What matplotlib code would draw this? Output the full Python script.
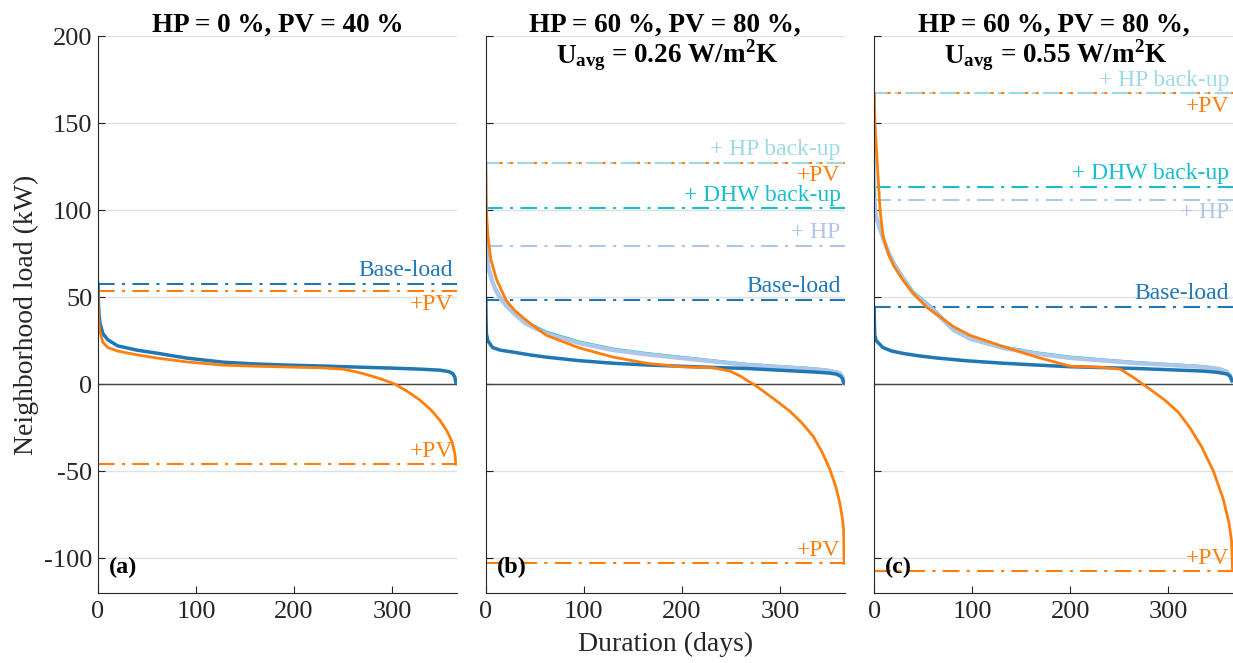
import numpy as np
import matplotlib.pyplot as plt

plt.rcParams['font.family'] = ['Liberation Serif', 'DejaVu Serif']
plt.rcParams['mathtext.fontset'] = 'custom'
plt.rcParams['mathtext.rm'] = 'Liberation Serif'
plt.rcParams['mathtext.bf'] = 'Liberation Serif:bold'
plt.rcParams['axes.unicode_minus'] = False

# colours (tab20 style)
col_base = '#1f77b4'
col_pv = '#ff7f0e'
col_hp = '#aec7e8'
col_dhw = '#17becf'
col_hpb = '#9edae5'

# ---- panel (a): HP = 0 %, PV = 40 %
a_days_base = [0, 0.3, 1, 2, 5, 10, 20, 40, 60, 90, 128, 160, 196, 230, 264, 300, 330, 349, 358, 362, 364, 365]
a_base = [57.5, 48, 40, 35, 29, 25.5, 22, 19.5, 17.8, 15, 12.6, 11.6, 10.9, 10.4, 9.8, 9.2, 8.6, 8, 7.2, 6, 4, 1]
a_days_pv = [0, 0.3, 1, 2, 5, 10, 20, 40, 60, 90, 128, 160, 196, 230, 250, 264, 280, 292, 303, 315, 328, 340, 349, 356, 361, 364, 365]
a_pv = [53, 42, 34, 30, 24, 21, 19, 16.8, 15, 12.8, 10.9, 10.3, 9.8, 9.3, 8.6, 7, 4.5, 2.3, 0, -4, -9, -15, -21, -27, -33, -40, -46]

# ---- panel (b): HP = 60 %, PV = 80 %, U = 0.26
b_days_base = [0, 0.3, 0.6, 2, 7, 15, 28, 45, 62, 95, 130, 165, 198, 232, 266, 300, 334, 350, 358, 362, 364, 365]
b_base = [48.5, 36, 29, 25, 21, 19.5, 18.4, 16.8, 15.5, 13.5, 12, 11, 10.3, 9.6, 9, 8, 7, 6.4, 5.7, 4.5, 3, 1]
b_days_hp = [0, 0.5, 1, 3, 6, 10, 14, 20, 28, 40, 62, 96, 130, 165, 198, 232, 266, 300, 334, 350, 361, 364, 365]
b_hp = [80, 77, 73, 66, 60, 54, 50, 45.5, 41, 35, 29, 23.5, 19.5, 17, 15, 13, 11, 9.8, 8.6, 7.6, 6.3, 4, 1]
b_dhw = [101, 90, 78, 68, 61, 55, 51, 46.5, 42, 36, 30, 24.3, 20.3, 17.7, 15.7, 13.6, 11.6, 10.3, 9.1, 8.1, 6.8, 4.4, 1.2]
b_hpb = [127, 92, 79, 68, 61, 55, 51, 46.5, 42, 36, 30, 24.3, 20.3, 17.7, 15.7, 13.6, 11.6, 10.3, 9.1, 8.1, 6.8, 4.4, 1.2]
b_days_pv = [0, 0.3, 0.6, 2, 5, 11, 21, 30, 45, 62, 96, 130, 164, 198, 232, 249, 260, 266, 273, 283, 295, 310, 322, 334, 343, 351, 357, 361, 364, 365, 365.5]
b_pv = [127, 110, 100, 86, 72, 60, 48, 42, 35, 28, 20.7, 15.5, 12, 10, 9.4, 7.5, 4.5, 2.3, 0, -4, -9, -15.5, -22, -30, -39, -49, -59, -68, -78, -84, -103]

# ---- panel (c): HP = 60 %, PV = 80 %, U = 0.55
c_days_base = [0, 0.3, 0.6, 2, 9, 18, 30, 45, 64, 95, 132, 165, 200, 234, 268, 300, 336, 350, 360, 363, 365]
c_base = [44, 34, 28, 25, 21, 19, 17.6, 16.3, 15, 13.4, 12, 11, 10, 9.5, 9, 8.3, 7.5, 6.8, 5.8, 4.5, 2]
c_days_hp = [0, 1, 2, 6, 10, 15, 20, 29, 40, 57, 81, 98, 132, 165, 200, 234, 268, 300, 336, 352, 360, 363, 365]
c_hp = [106, 100, 96, 89, 82, 75, 69, 61, 52, 44, 31, 26, 20.7, 17.5, 15, 13.5, 12, 11, 9.8, 8.6, 7, 5, 2]
c_dhw = [113, 102, 97, 90, 83, 76, 70, 62, 53, 45, 32, 27, 21.5, 18.2, 15.7, 14.1, 12.6, 11.5, 10.3, 9.1, 7.5, 5.5, 2.5]
c_hpb = [167, 105, 98, 90, 83, 76, 70, 62, 53, 45, 32, 27, 21.5, 18.2, 15.7, 14.1, 12.6, 11.5, 10.3, 9.1, 7.5, 5.5, 2.5]
c_days_pv = [0, 0.5, 1, 3, 6, 9, 15, 20, 29, 40, 54, 81, 98, 132, 166, 200, 234, 251, 264, 274, 284, 296, 310, 322, 334, 346, 356, 362, 364.5, 365, 365.5]
c_pv = [167, 155, 148, 128, 100, 85, 74, 68, 60, 52, 44, 33, 28, 21.5, 15.5, 10.3, 9.6, 8.6, 4, 0, -4, -9, -16, -25, -36, -50, -66, -80, -90, -96, -107]

# peak / valley markers
a_lines = {'base': 57.5, 'pv_max': 53.4, 'pv_min': -46}
b_lines = {'base': 48.5, 'hp': 79.5, 'dhw': 101, 'hpb': 127.3, 'pv_max': 127.3, 'pv_min': -103}
c_lines = {'base': 44.3, 'hp': 106, 'dhw': 113.5, 'hpb': 167, 'pv_max': 167, 'pv_min': -107.5}

titles = ['HP = 0 %, PV = 40 %', 'HP = 60 %, PV = 80 %,', 'HP = 60 %, PV = 80 %,']
u_values = ['0.26', '0.55']
letters = ['(a)', '(b)', '(c)']

dashdot = (0, (8, 3.5, 1.5, 3.5))
fs_lab = 17
fs_title = 19.5

fig = plt.figure(figsize=(12.33, 6.63), dpi=100)
lefts = [0.0795, 0.394, 0.709]
axes = [fig.add_axes([l, 0.1056, 0.291, 0.840]) for l in lefts]


def hline(ax, y, col, lw=1.5, ls=dashdot):
    ax.plot([0, 366], [y, y], color=col, lw=lw, ls=ls)


def label(ax, y, txt, col, above=True):
    if above:
        ax.text(362, y + 1.5, txt, color=col, ha='right', va='bottom', fontsize=fs_lab)
    else:
        ax.text(362, y - 1.5, txt, color=col, ha='right', va='top', fontsize=fs_lab)


for i, ax in enumerate(axes):
    ax.set_xlim(0, 366)
    ax.set_ylim(-120, 200)
    ax.set_yticks(np.arange(-100, 201, 50))
    ax.set_xticks([0, 100, 200, 300])
    ax.grid(axis='y', color='#e0e0e0', lw=1)
    ax.set_axisbelow(True)
    ax.axhline(0, color='#444444', lw=1)
    for s in ['top', 'right']:
        ax.spines[s].set_visible(False)
    for s in ['left', 'bottom']:
        ax.spines[s].set_color('#262626')
    ax.tick_params(direction='in', length=5, labelsize=19, colors='#262626')
    ax.tick_params(axis='y', pad=4)
    ax.tick_params(axis='x', pad=6)
    if i > 0:
        ax.tick_params(labelleft=False)
    ax.text(0.03, 0.035, letters[i], transform=ax.transAxes, fontsize=17.5, fontweight='bold')
    ax.text(0.5, 1.007, titles[i], transform=ax.transAxes, ha='center', va='baseline',
            fontsize=fs_title, fontweight='bold')

# panel (a)
ax = axes[0]
hline(ax, a_lines['base'], col_base)
hline(ax, a_lines['pv_max'], col_pv)
hline(ax, a_lines['pv_min'], col_pv)
ax.plot(a_days_base, a_base, color=col_base, lw=2.5)
ax.plot(a_days_pv, a_pv, color=col_pv, lw=2)
label(ax, a_lines['base'], 'Base-load', col_base)
label(ax, a_lines['pv_max'], '+PV', col_pv, above=False)
label(ax, a_lines['pv_min'], '+PV', col_pv)

# panels (b) and (c)
for ax, ln, d_base, base, d_hp, hp, dhw, hpb, d_pv, pv, uval, hp_above in [
        (axes[1], b_lines, b_days_base, b_base, b_days_hp, b_hp, b_dhw, b_hpb, b_days_pv, b_pv, u_values[0], True),
        (axes[2], c_lines, c_days_base, c_base, c_days_hp, c_hp, c_dhw, c_hpb, c_days_pv, c_pv, u_values[1], False)]:
    hline(ax, ln['base'], col_base)
    hline(ax, ln['hp'], col_hp)
    hline(ax, ln['dhw'], col_dhw)
    hline(ax, ln['pv_max'], col_pv)
    hline(ax, ln['hpb'], col_hpb, ls=(1.5, (8, 3.5, 1.5, 3.5)))
    hline(ax, ln['pv_min'], col_pv)
    ax.plot(d_hp, hpb, color=col_hpb, lw=2)
    ax.plot(d_hp, dhw, color=col_dhw, lw=1.5)
    ax.plot(d_hp, hp, color=col_hp, lw=3)
    ax.plot(d_base, base, color=col_base, lw=2.5)
    ax.plot(d_pv, pv, color=col_pv, lw=2)
    label(ax, ln['base'], 'Base-load', col_base)
    label(ax, ln['hp'], '+ HP', col_hp, above=hp_above)
    label(ax, ln['dhw'], '+ DHW back-up', col_dhw)
    label(ax, ln['hpb'], '+ HP back-up', col_hpb)
    label(ax, ln['pv_max'], '+PV', col_pv, above=False)
    label(ax, ln['pv_min'], '+PV', col_pv)
    # second title line, split so the subscript does not widen the whole line
    ax.text(0.335, 0.9515, r'$\mathbf{U_{avg}}$', transform=ax.transAxes, ha='right',
            va='baseline', fontsize=fs_title)
    ax.text(0.35, 0.9515, '= ' + uval + ' W/m' + r'$^\mathbf{2}$' + 'K', transform=ax.transAxes,
            ha='left', va='baseline', fontsize=fs_title, fontweight='bold')

axes[0].set_ylabel('Neighborhood load (kW)', fontsize=20, color='#262626', labelpad=4)
axes[1].set_xlabel('Duration (days)', fontsize=20, color='#262626', labelpad=6)

fig.savefig('out.png', dpi=100)
